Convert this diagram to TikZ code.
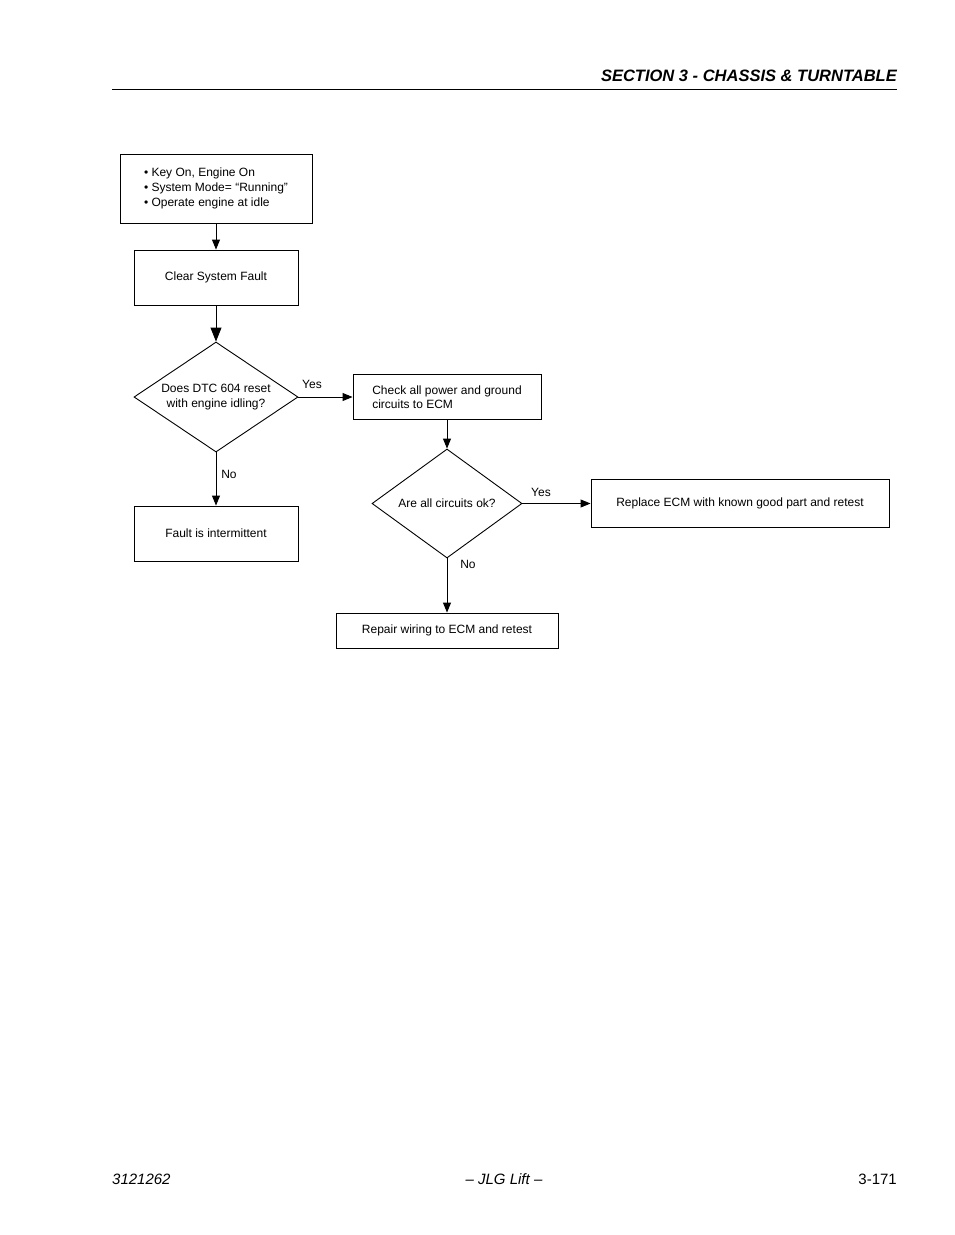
\documentclass[tikz,border=0pt]{standalone}
\usepackage{fontspec}
\setmainfont{Liberation Sans}
\usetikzlibrary{arrows.meta,shapes.geometric}
\begin{document}
\begin{tikzpicture}[x=1pt,y=-1pt,
  diag/.style={font=\fontsize{12}{14.5}\selectfont},
  box/.style={draw, line width=0.9pt, rectangle, inner sep=0pt, align=center, diag},
  dia/.style={draw, line width=0.9pt, diamond, inner sep=0pt, align=center, diag},
  arr/.style={line width=0.9pt, -{Triangle[length=10pt,width=8pt]}},
  bigarr/.style={line width=0.9pt, -{Triangle[length=14pt,width=11pt]}},
  lbl/.style={inner sep=0pt, diag},
  foot/.style={inner sep=0pt, anchor=base, font=\fontsize{15}{18}\selectfont}
]
\useasboundingbox (0,0) rectangle (954,1235);
\fill[white] (0,0) rectangle (954,1235);

% header
\node[inner sep=0pt, anchor=base east, font=\fontsize{16.5}{20}\selectfont\bfseries\itshape] (hdr) at (897,81) {SECTION 3 - CHASSIS \& TURNTABLE};
\coordinate (hl) at (112,89);
\coordinate (hr) at (897,89);
\draw[line width=1pt] (hl) -- (hr);

% nodes
\node[box, minimum width=192pt, minimum height=69pt, align=left, font=\fontsize{12}{15}\selectfont] (b1) at (216,188.5)
  {\textbullet\ Key On, Engine On\\ \textbullet\ System Mode= “Running”\\ \textbullet\ Operate engine at idle};
\node[box, minimum width=164pt, minimum height=55pt] (b2) at (216,277.5) {Clear System Fault};
\node[dia, aspect=1.5, minimum width=164pt, minimum height=110pt] (d1) at (216,397) {Does DTC 604 reset\\ with engine idling?};
\node[box, minimum width=188pt, minimum height=45pt, align=left] (b3) at (447,397) {Check all power and ground\\ circuits to ECM};
\node[box, minimum width=164pt, minimum height=55pt] (b4) at (216,533.5) {Fault is intermittent};
\node[dia, aspect=1.4, minimum width=150pt, minimum height=109pt] (d2) at (447,503.5) {Are all circuits ok?};
\node[box, minimum width=298pt, minimum height=48pt] (b5) at (740,503.5) {Replace ECM with known good part and retest};
\node[box, minimum width=222pt, minimum height=35pt] (b6) at (447,630.5) {Repair wiring to ECM and retest};

% connectors
\draw[arr] (b1) -- (b2);
\draw[bigarr] (b2) -- (d1);
\draw[arr] (d1.east) -- (b3.west);
\draw[arr] (d1.south) -- (b4.north);
\draw[arr] (b3.south) -- (d2.north);
\draw[arr] (d2.east) -- (b5.west);
\draw[arr] (d2.south) -- (b6.north);

% labels
\node[lbl] (l1) at (312,384) {Yes};
\node[lbl] (l2) at (229,474) {No};
\node[lbl] (l3) at (541,492.5) {Yes};
\node[lbl] (l4) at (468,564) {No};

% footer
\node[foot, anchor=base west, font=\fontsize{15}{18}\selectfont\itshape] (f1) at (112,1184) {3121262};
\node[foot, font=\fontsize{15}{18}\selectfont\itshape] (f2) at (504,1184) {– JLG Lift –};
\node[foot, anchor=base east] (f3) at (897,1184) {3-171};
\end{tikzpicture}
\end{document}
